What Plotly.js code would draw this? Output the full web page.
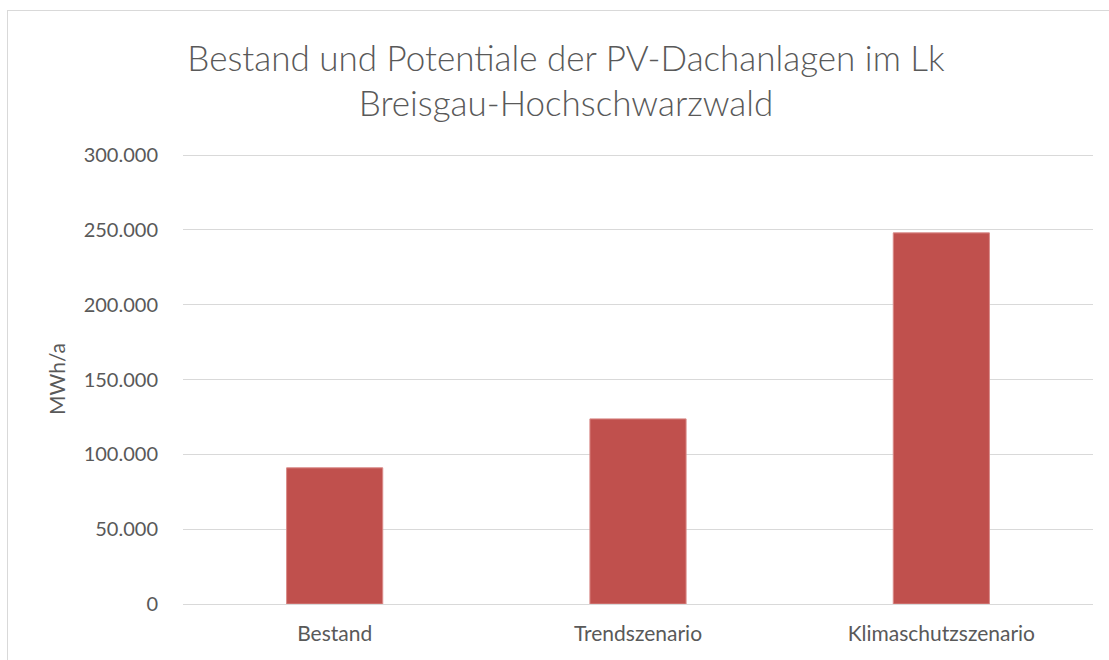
<!DOCTYPE html>
<html>
<head>
<meta charset="utf-8">
<script src="https://cdn.plot.ly/plotly-3.0.1.min.js"></script>
<style>
  html, body { margin: 0; padding: 0; background: #fff; }
  #wrap { position: relative; width: 1109px; height: 660px; overflow: hidden; }
  #chart { width: 1109px; height: 660px; }
  #frame { position: absolute; left: 7px; top: 10px; width: 1120px; height: 680px;
           border: 1px solid #d9d9d9; pointer-events: none; }
</style>
</head>
<body>
<div id="wrap">
  <div id="chart"></div>
  <div id="frame"></div>
</div>
<script>
const categories = ["Bestand", "Trendszenario", "Klimaschutzszenario"];
const values = [91000, 123700, 248000];
const tickValues = [0, 50000, 100000, 150000, 200000, 250000, 300000];
const titleText = "Bestand und Potentiale der PV-Dachanlagen im Lk<br>Breisgau-Hochschwarzwald";
const yTitle = "MWh/a";

const fontFam = "Lato, 'Open Sans', sans-serif";
const grey = "#595959";

const trace = {
  type: "bar",
  x: categories,
  y: values,
  marker: { color: "#c0504d", line: { color: "#d98a88", width: 1 } },
  hoverinfo: "x+y"
};

const layout = {
  width: 1109,
  height: 660,
  margin: { l: 183, r: 16, t: 154, b: 56 },
  paper_bgcolor: "#ffffff",
  plot_bgcolor: "#ffffff",
  separators: ",.",
  bargap: 0.683,
  showlegend: false,
  font: { family: fontFam, color: grey, size: 20 },
  title: {
    text: titleText,
    font: { family: fontFam, size: 35, color: grey, weight: 300 },
    x: 0.5104,
    xref: "container",
    xanchor: "center",
    y: 0.893,
    yref: "container",
    yanchor: "middle"
  },
  xaxis: {
    type: "category",
    showgrid: false,
    showline: false,
    zeroline: false,
    ticks: "",
    tickfont: { family: fontFam, size: 21, color: grey },
    ticklabelstandoff: 15
  },
  yaxis: {
    range: [0, 300700],
    tickmode: "array",
    tickvals: tickValues,
    tickformat: ",d",
    showgrid: true,
    gridcolor: "#d9d9d9",
    gridwidth: 1,
    zeroline: true,
    zerolinecolor: "#d9d9d9",
    zerolinewidth: 1,
    showline: false,
    ticks: "",
    ticklabelstandoff: 24,
    tickfont: { family: fontFam, size: 20, color: grey },
    title: {
      text: yTitle,
      font: { family: fontFam, size: 21, color: grey },
      standoff: 12
    }
  }
};

Plotly.newPlot("chart", [trace], layout, { displayModeBar: false, staticPlot: true });
</script>
</body>
</html>
